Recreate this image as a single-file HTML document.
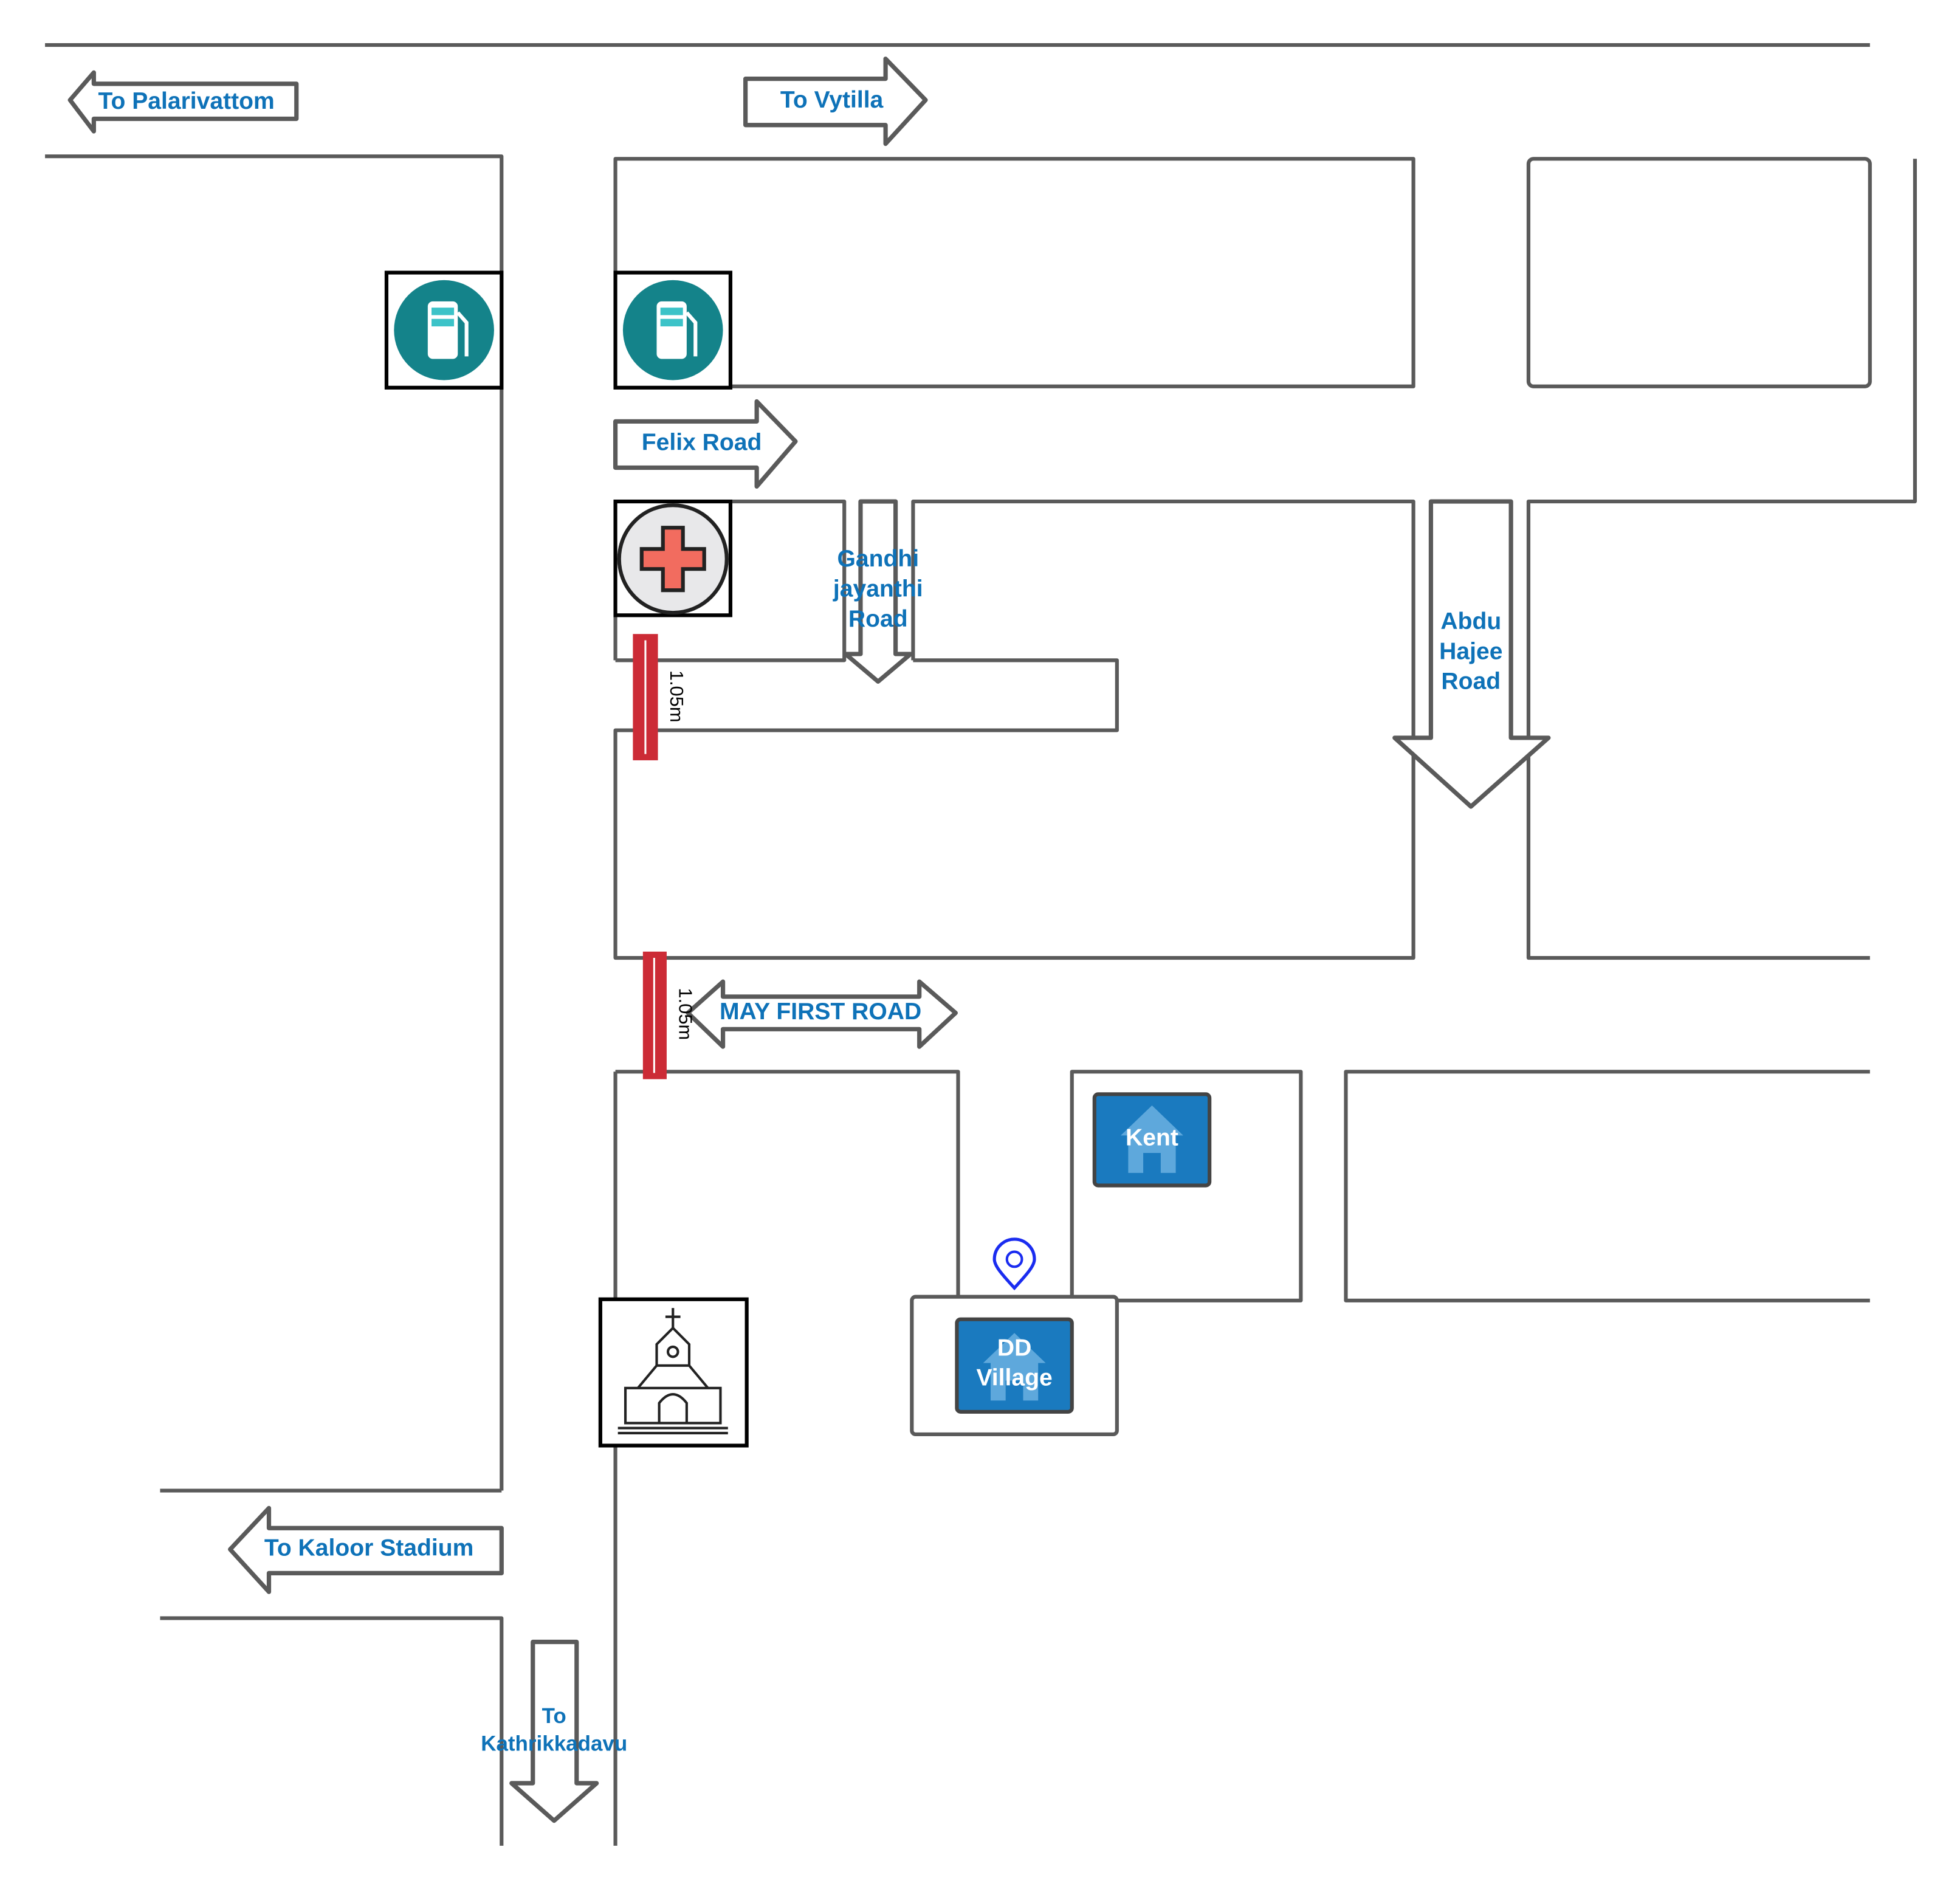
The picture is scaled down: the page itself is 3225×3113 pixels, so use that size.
<!DOCTYPE html>
<html><head><meta charset="utf-8"><style>
html,body{margin:0;padding:0;background:#fff;}
svg{display:block;}
text{font-family:"Liberation Sans",sans-serif;font-weight:bold;fill:#0e72b8;}
</style></head><body>
<svg width="3225" height="3113" viewBox="0 0 1567 1513" preserveAspectRatio="none" xmlns="http://www.w3.org/2000/svg">
<g fill="none" stroke="#5a5a5a" stroke-width="3" stroke-linejoin="round">
<line x1="36" y1="36" x2="1495" y2="36"/>
<polyline points="36,125 401,125 401,1192"/>
<line x1="128" y1="1192" x2="401" y2="1192"/>
<polyline points="128,1294 401,1294 401,1476"/>
<line x1="492" y1="857" x2="492" y2="1476"/>
<polyline points="492,857 766,857 766,1037"/>
<rect x="492" y="127" width="638" height="182"/>
<rect x="1222" y="127" width="273" height="182" rx="4"/>
<polyline points="1531,127 1531,401 1222,401 1222,766 1495,766"/>
<polyline points="492,528 492,401 675,401 675,528 492,528"/>
<polyline points="730,528 730,401 1130,401 1130,766 492,766 492,584 893,584 893,528 730,528"/>
<polyline points="857,1037 857,857 1040,857 1040,1040 893,1040"/>
<polyline points="1495,857 1076,857 1076,1040 1495,1040"/>
<rect x="729" y="1037" width="164" height="110" rx="3"/>
</g>
<g fill="#fff" stroke="#5a5a5a" stroke-width="3.5" stroke-linejoin="round">
<path d="M56,80 L75,58 L75,67 L237,67 L237,95 L75,95 L75,105 Z"/>
<path d="M596,63 L708,63 L708,47 L740,80 L708,115 L708,100 L596,100 Z"/>
<path d="M492,337 L605,337 L605,321 L636,353 L605,389 L605,374 L492,374 Z"/>
<path d="M688,401 L716,401 L716,523 L728,523 L702,545 L676,523 L688,523 Z"/>
<path d="M1144,401 L1208,401 L1208,590 L1238,590 L1176,645 L1115,590 L1144,590 Z"/>
<path d="M550,810 L578,785 L578,797 L735,797 L735,785 L764,810 L735,837 L735,823 L578,823 L578,837 Z"/>
<path d="M184,1239 L215,1206 L215,1222 L401,1222 L401,1258 L215,1258 L215,1273 Z"/>
<path d="M426,1313 L461,1313 L461,1426 L477,1426 L443,1456 L409,1426 L426,1426 Z"/>
</g>
<text x="149" y="87" font-size="19" text-anchor="middle">To Palarivattom</text>
<text x="665" y="86" font-size="19" text-anchor="middle">To Vytilla</text>
<text x="561" y="360" font-size="19" text-anchor="middle">Felix Road</text>
<text x="702" y="453" font-size="19" text-anchor="middle">Gandhi</text>
<text x="702" y="477" font-size="19" text-anchor="middle">jayanthi</text>
<text x="702" y="501" font-size="19" text-anchor="middle">Road</text>
<text x="1176" y="503" font-size="19" text-anchor="middle">Abdu</text>
<text x="1176" y="527" font-size="19" text-anchor="middle">Hajee</text>
<text x="1176" y="551" font-size="19" text-anchor="middle">Road</text>
<text x="656" y="815" font-size="19" text-anchor="middle">MAY FIRST ROAD</text>
<text x="295" y="1244" font-size="19" text-anchor="middle">To Kaloor Stadium</text>
<text x="443" y="1378" font-size="17" text-anchor="middle">To</text>
<text x="443" y="1400" font-size="17" text-anchor="middle">Kathrikkadavu</text>
<rect x="506" y="507" width="20" height="101" fill="#cc2b36"/>
<line x1="516" y1="512" x2="516" y2="603" stroke="#fff" stroke-width="1.5"/>
<rect x="514" y="761" width="19" height="102" fill="#cc2b36"/>
<line x1="523" y1="766" x2="523" y2="858" stroke="#fff" stroke-width="1.5"/>
<text x="0" y="0" font-size="15" style="font-weight:normal;fill:#000" transform="translate(536,536) rotate(90)">1.05m</text>
<text x="0" y="0" font-size="15" style="font-weight:normal;fill:#000" transform="translate(543,790) rotate(90)">1.05m</text>
<g>
<rect x="309" y="218" width="92" height="92" fill="#fff" stroke="#000" stroke-width="3"/>
<circle cx="355" cy="264" r="40" fill="#14838a"/>
<rect x="342" y="241" width="24" height="46" rx="4" fill="#fff"/>
<rect x="345" y="246" width="18" height="6" fill="#3cc3c8"/><rect x="345" y="255" width="18" height="6" fill="#3cc3c8"/>
<path d="M366,250 L373,258 L373,285" stroke="#fff" stroke-width="3" fill="none"/>
</g>
<g>
<rect x="492" y="218" width="92" height="92" fill="#fff" stroke="#000" stroke-width="3"/>
<circle cx="538" cy="264" r="40" fill="#14838a"/>
<rect x="525" y="241" width="24" height="46" rx="4" fill="#fff"/>
<rect x="528" y="246" width="18" height="6" fill="#3cc3c8"/><rect x="528" y="255" width="18" height="6" fill="#3cc3c8"/>
<path d="M549,250 L556,258 L556,285" stroke="#fff" stroke-width="3" fill="none"/>
</g>
<rect x="492" y="401" width="92" height="91" fill="#fff" stroke="#000" stroke-width="3"/>
<circle cx="538" cy="447" r="43" fill="#e8e8ea" stroke="#222" stroke-width="3"/>
<path d="M530,422 L546,422 L546,439 L563,439 L563,455 L546,455 L546,472 L530,472 L530,455 L513,455 L513,439 L530,439 Z" fill="#f26c5f" stroke="#222" stroke-width="3"/>
<rect x="480" y="1039" width="117" height="117" fill="#fff" stroke="#000" stroke-width="3"/>
<g fill="none" stroke="#222" stroke-width="2">
<line x1="538" y1="1046" x2="538" y2="1062"/><line x1="532" y1="1053" x2="544" y2="1053"/>
<path d="M525,1092 L525,1075 L538,1062 L551,1075 L551,1092"/>
<path d="M510,1110 L525,1092 L551,1092 L566,1110"/>
<rect x="500" y="1110" width="76" height="28"/>
<path d="M527,1138 L527,1122 Q538,1108 549,1122 L549,1138"/>
<line x1="494" y1="1142" x2="582" y2="1142"/><line x1="494" y1="1146" x2="582" y2="1146"/>
<circle cx="538" cy="1081" r="4"/>
</g>
<rect x="875" y="875" width="92" height="73" rx="3" fill="#1a7abf" stroke="#444" stroke-width="3"/>
<path d="M921,884 L946,908 L940,908 L940,938 L928,938 L928,922 L914,922 L914,938 L902,938 L902,908 L896,908 Z" fill="#5ea8dc"/>
<text x="921" y="916" font-size="19" text-anchor="middle" style="fill:#fff">Kent</text>
<rect x="765" y="1055" width="92" height="74" rx="3" fill="#1a7abf" stroke="#444" stroke-width="3"/>
<path d="M811,1066 L836,1090 L830,1090 L830,1120 L818,1120 L818,1104 L804,1104 L804,1120 L792,1120 L792,1090 L786,1090 Z" fill="#5ea8dc"/>
<text x="811" y="1084" font-size="19" text-anchor="middle" style="fill:#fff">DD</text>
<text x="811" y="1108" font-size="19" text-anchor="middle" style="fill:#fff">Village</text>
<path d="M811,1030 C800,1018 795,1012 795,1007 A16,16 0 0 1 827,1007 C827,1012 822,1018 811,1030 Z" fill="#fff" stroke="#1a2cf0" stroke-width="2.5"/>
<circle cx="811" cy="1007" r="6" fill="none" stroke="#1a2cf0" stroke-width="2"/>
</svg>
</body></html>
